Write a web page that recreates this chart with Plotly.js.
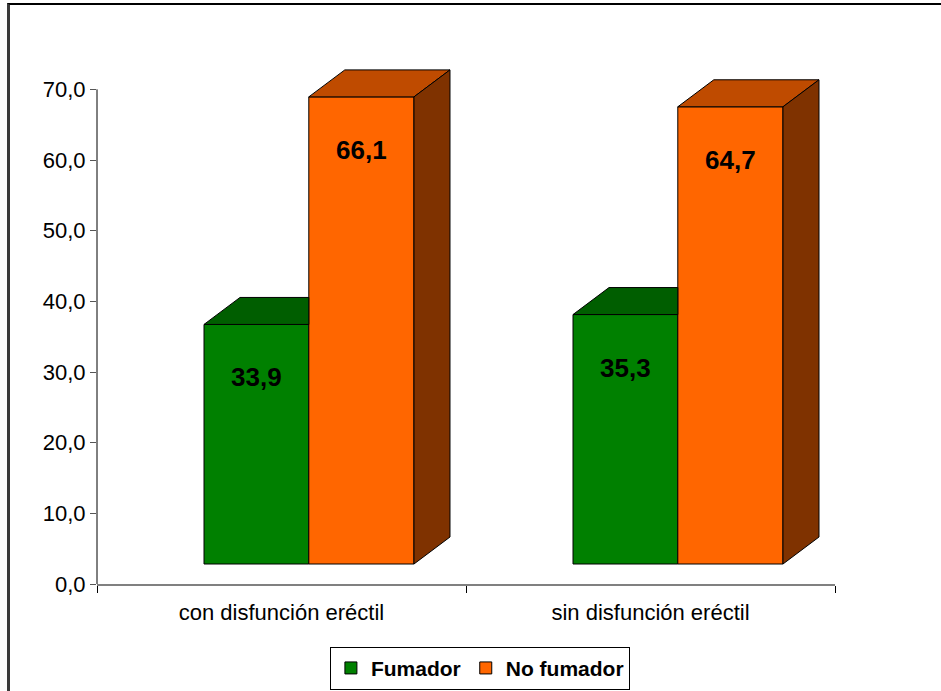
<!DOCTYPE html>
<html>
<head>
<meta charset="utf-8">
<script src="https://cdn.plot.ly/plotly-3.0.1.min.js"></script>
<style>
  html, body { margin: 0; padding: 0; background: #fff; }
  #wrap { position: relative; width: 941px; height: 691px; overflow: hidden; }
  #chart { position: absolute; left: 0; top: 0; width: 941px; height: 691px; }
  #frame { position: absolute; left: 7px; top: 3px; width: 960px; height: 720px;
           border-left: 3px solid #3a3a3a; border-top: 2px solid #000; pointer-events: none; }
</style>
</head>
<body>
<div id="wrap">
  <div id="chart"></div>
  <div id="frame"></div>
</div>
<script>
// ---- data ----
const categories = ['con disfunción eréctil', 'sin disfunción eréctil'];
const seriesNames = ['Fumador', 'No fumador'];
const fumador = [33.9, 35.3];
const noFumador = [66.1, 64.7];
const yTickValues = [0, 10, 20, 30, 40, 50, 60, 70];

// ---- style ----
const FONT = 'Liberation Sans, Arial, sans-serif';
const FRONT = ['#008000', '#FF6600'];
const TOP = ['#005E00', '#BF4B00'];
const SIDE = ['#004000', '#7F3200'];
const BASE = 2.83;      // floor lift of the 3D front faces (data units)
const DX = 0.0976;      // depth shift in category units
const DY = 3.82;        // depth shift in value units
const OFFSETS = [-0.21, 0.074];
const WIDTHS = [0.284, 0.285];
const LABEL_DROP = 7.5;
const AXIS_TOP = yTickValues[yTickValues.length - 1];

const series = [fumador, noFumador];
const fmt = v => v.toFixed(1).replace('.', ',');

const traces = [];
// front faces as bars
series.forEach((vals, s) => {
  traces.push({
    type: 'bar',
    name: seriesNames[s],
    x: categories,
    y: vals,
    base: vals.map(() => BASE),
    offset: OFFSETS[s],
    width: WIDTHS[s],
    marker: { color: FRONT[s], line: { color: '#000', width: 1 } },
    hoverinfo: 'y'
  });
});

// 3D top / side faces
const annotations = [];
categories.forEach((cat, i) => {
  series.forEach((vals, s) => {
    const v = vals[i];
    const xl = i + OFFSETS[s];
    const xr = xl + WIDTHS[s];
    const yt = BASE + v;
    const next = series[s + 1];
    const nextTaller = next && next[i] >= v;
    let topX, topY;
    if (nextTaller) {
      const xc = i + OFFSETS[s + 1];
      topX = [xl, xc, xc, xl + DX, xl];
      topY = [yt, yt, yt + DY, yt + DY, yt];
    } else {
      topX = [xl, xr, xr + DX, xl + DX, xl];
      topY = [yt, yt, yt + DY, yt + DY, yt];
    }
    traces.push({
      type: 'scatter', mode: 'lines', xaxis: 'x2', yaxis: 'y',
      x: topX, y: topY, fill: 'toself', fillcolor: TOP[s],
      line: { color: '#000', width: 1 }, showlegend: false, hoverinfo: 'skip'
    });
    if (!nextTaller) {
      traces.push({
        type: 'scatter', mode: 'lines', xaxis: 'x2', yaxis: 'y',
        x: [xr, xr + DX, xr + DX, xr, xr],
        y: [BASE, BASE + DY, yt + DY, yt, BASE],
        fill: 'toself', fillcolor: SIDE[s],
        line: { color: '#000', width: 1 }, showlegend: false, hoverinfo: 'skip'
      });
    }
    annotations.push({
      xref: 'x2', yref: 'y',
      x: (xl + xr) / 2, y: yt - LABEL_DROP,
      text: fmt(v), showarrow: false,
      font: { family: FONT, size: 26, color: '#000', weight: 'bold' }
    });
  });
});

const layout = {
  width: 941, height: 691,
  margin: { l: 97, r: 106, t: 54, b: 107 },
  paper_bgcolor: '#fff', plot_bgcolor: '#fff',
  separators: ',.',
  barmode: 'overlay',
  showlegend: true,
  font: { family: FONT, color: '#000' },
  xaxis: {
    type: 'category', categoryorder: 'array', categoryarray: categories,
    range: [-0.5, 1.5], tickson: 'boundaries',
    ticks: 'outside', ticklen: 7, tickcolor: '#000', tickwidth: 1,
    ticklabelstandoff: 8,
    showline: true, linecolor: '#808080', linewidth: 2,
    showgrid: false, zeroline: false,
    tickfont: { family: FONT, size: 22, color: '#000' }
  },
  xaxis2: {
    overlaying: 'x', range: [-0.5, 1.5], visible: false, fixedrange: true
  },
  yaxis: {
    range: [0, 75], tickvals: yTickValues, tickformat: '.1f',
    ticks: 'outside', ticklen: 6, tickcolor: '#555', tickwidth: 1,
    showline: false,
    showgrid: false, zeroline: false,
    tickfont: { family: FONT, size: 22, color: '#000' }
  },
  shapes: [{
    type: 'line', xref: 'paper', yref: 'y', x0: 0, x1: 0, y0: 0, y1: AXIS_TOP,
    line: { color: '#000', width: 1 }
  }],
  legend: {
    orientation: 'h', xref: 'container', yref: 'container',
    x: 0.51, xanchor: 'center', y: 0.064, yanchor: 'top',
    bordercolor: '#000', borderwidth: 1, bgcolor: '#fff',
    font: { family: FONT, size: 21, color: '#000', weight: 'bold' }
  },
  annotations: annotations
};

Plotly.newPlot('chart', traces, layout, { displayModeBar: false, staticPlot: true });
</script>
</body>
</html>
